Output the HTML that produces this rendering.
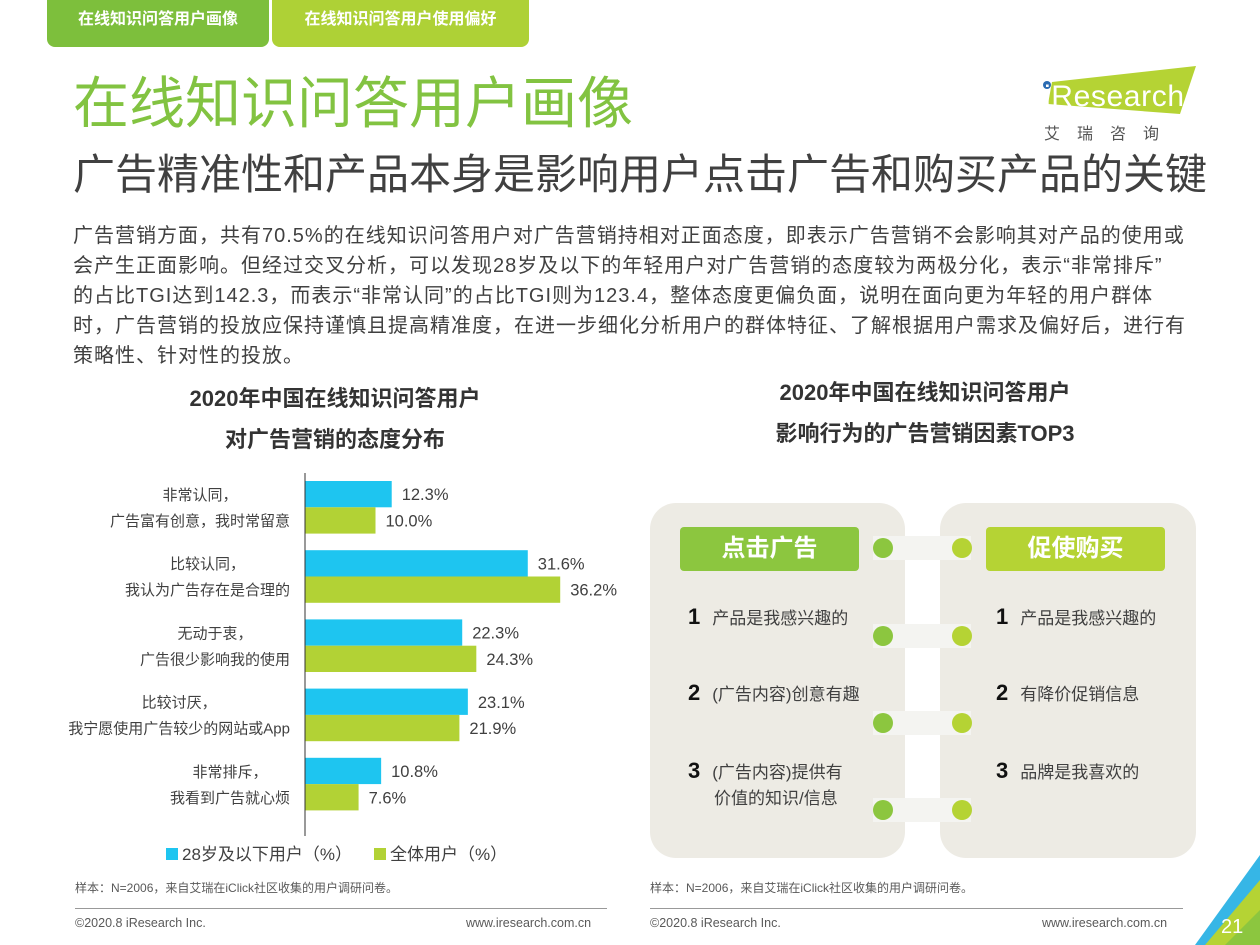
<!DOCTYPE html>
<html><head><meta charset="utf-8"><style>
body{margin:0;width:1260px;height:945px;overflow:hidden;background:#fff;font-family:"Liberation Sans","Noto Sans CJK SC",sans-serif;color:#404040;position:relative}
.a{position:absolute;white-space:nowrap}
</style></head><body>
<div class="a" style="left:47px;top:0;width:222px;height:47px;background:#7dbf3c;border-radius:0 0 8px 8px;color:#fff;font-weight:bold;font-size:16px;line-height:40px;text-align:center">在线知识问答用户画像</div>
<div class="a" style="left:272px;top:0;width:257px;height:47px;background:#aed136;border-radius:0 0 8px 8px;color:#fff;font-weight:bold;font-size:16px;line-height:40px;text-align:center">在线知识问答用户使用偏好</div>
<div class="a" style="left:73px;top:68px;font-size:56px;color:#82c341;line-height:72px">在线知识问答用户画像</div>
<div class="a" style="left:73px;top:148px;font-size:42px;color:#404040;line-height:54px">广告精准性和产品本身是影响用户点击广告和购买产品的关键</div>
<div class="a" style="left:1040px;top:66px;width:160px;height:80px">
<svg width="160" height="80"><polygon points="12,16 156,0 140,48 8,38" fill="#b5d334"/><circle cx="7" cy="19" r="4" fill="#2b6cb3"/><text x="4" y="40" font-size="30" fill="#fff" font-family="Liberation Sans" textLength="140">iResearch</text>
<text x="4" y="73" font-size="16" fill="#555" letter-spacing="17" font-family="Noto Sans CJK SC">艾瑞咨询</text></svg></div>
<div class="a" style="left:73px;top:221px;font-size:20px;letter-spacing:1px;line-height:30px;color:#404040">广告营销方面，共有70.5%的在线知识问答用户对广告营销持相对正面态度，即表示广告营销不会影响其对产品的使用或<br>会产生正面影响。但经过交叉分析，可以发现28岁及以下的年轻用户对广告营销的态度较为两极分化，表示“非常排斥”<br>的占比TGI达到142.3，而表示“非常认同”的占比TGI则为123.4，整体态度更偏负面，说明在面向更为年轻的用户群体<br>时，广告营销的投放应保持谨慎且提高精准度，在进一步细化分析用户的群体特征、了解根据用户需求及偏好后，进行有<br>策略性、针对性的投放。</div>
<div class="a" style="left:90px;top:378px;width:490px;text-align:center;font-size:22px;font-weight:bold;line-height:41px;color:#333">2020年中国在线知识问答用户<br>对广告营销的态度分布</div>
<div class="a" style="left:680px;top:372px;width:490px;text-align:center;font-size:22px;font-weight:bold;line-height:41px;color:#333">2020年中国在线知识问答用户<br>影响行为的广告营销因素TOP3</div>
<svg class="a" style="left:0;top:0" width="1260" height="945" id="chart"></svg>
<script>
const categories1=["非常认同，","比较认同，","无动于衷，","比较讨厌，","非常排斥，"];
const categories2=["广告富有创意，我时常留意","我认为广告存在是合理的","广告很少影响我的使用","我宁愿使用广告较少的网站或App","我看到广告就心烦"];
const youngValues=[12.3,31.6,22.3,23.1,10.8];
const allValues=[10.0,36.2,24.3,21.9,7.6];
const svg=document.getElementById('chart');const NS='http://www.w3.org/2000/svg';
const x0=305,pxPer=7.05,top0=481,pitch=69.2,bh=26.3;
const xs=v=>x0+v*pxPer;
function mk(t,a){const e=document.createElementNS(NS,t);for(const k in a)e.setAttribute(k,a[k]);svg.appendChild(e);return e;}
categories1.forEach((c,i)=>{
 const y=top0+i*pitch;
 [[youngValues[i],'#1ec5f0',0],[allValues[i],'#b2d235',1]].forEach(([v,col,j])=>{
  const r=mk('rect',{x:x0,y:y+j*bh,width:xs(v)-x0,height:bh,fill:col});
  
  
  const t=mk('text',{x:xs(v)+10,y:y+j*bh+bh/2+6,'font-size':16.5,fill:'#404040','font-family':'Liberation Sans'});
  t.textContent=v.toFixed(1)+'%';
  
  
 });
 const l2=mk('text',{x:290,y:y+45,'font-size':15,fill:'#404040','text-anchor':'end','font-family':'Liberation Sans, Noto Sans CJK SC'});l2.textContent=categories2[i];
 
 
 const w=l2.getComputedTextLength();
 const l1=mk('text',{x:290-w/2,y:y+19,'font-size':15,fill:'#404040','text-anchor':'middle','font-family':'Noto Sans CJK SC'});l1.textContent=c;
 
 
});
const ax=mk('line',{x1:x0,x2:x0,y1:473,y2:836,stroke:'#333','stroke-width':1});


</script>
<div class="a" style="left:166px;top:840px;font-size:17px;color:#404040"><span style="display:inline-block;width:12px;height:12px;background:#1ec5f0;margin-right:4px"></span>28岁及以下用户（%）</div>
<div class="a" style="left:374px;top:840px;font-size:17px;color:#404040"><span style="display:inline-block;width:12px;height:12px;background:#b2d235;margin-right:4px"></span>全体用户（%）</div>
<div class="a" style="left:650px;top:503px;width:255px;height:355px;background:#edebe4;border-radius:26px"></div>
<div class="a" style="left:940px;top:503px;width:256px;height:355px;background:#edebe4;border-radius:26px"></div>
<div class="a" style="left:680px;top:527px;width:179px;height:44px;background:#8cc63f;border-radius:4px;color:#fff;font-size:24px;font-weight:bold;text-align:center;line-height:44px">点击广告</div>
<div class="a" style="left:986px;top:527px;width:179px;height:44px;background:#b5d334;border-radius:4px;color:#fff;font-size:24px;font-weight:bold;text-align:center;line-height:44px">促使购买</div>
<div id="conn"></div>
<script>
const connY=[548,636,723,810];
const c=document.getElementById('conn');
connY.forEach(y=>{
 const b=document.createElement('div');b.className='a';b.style.cssText=`left:873px;top:${y-12}px;width:98px;height:24px;background:#f4f4f1`;
 
 
 c.appendChild(b);
 [[883,'#8cc63f'],[962,'#b5d334']].forEach(([x,col])=>{const d=document.createElement('div');d.className='a';d.style.cssText=`left:${x-10}px;top:${y-10}px;width:20px;height:20px;border-radius:50%;background:${col}`;
 
 
 c.appendChild(d);});
});
</script>
<div class="a" style="left:688px;top:604px;font-size:17px"><b style="font-size:22px;color:#111;margin-right:12px">1</b>产品是我感兴趣的</div>
<div class="a" style="left:688px;top:680px;font-size:17px"><b style="font-size:22px;color:#111;margin-right:12px">2</b>(广告内容)创意有趣</div>
<div class="a" style="left:688px;top:758px;font-size:17px;line-height:26px"><b style="font-size:22px;color:#111;margin-right:12px">3</b>(广告内容)提供有<br><span style="margin-left:26px">价值的知识/信息</span></div>
<div class="a" style="left:996px;top:604px;font-size:17px"><b style="font-size:22px;color:#111;margin-right:12px">1</b>产品是我感兴趣的</div>
<div class="a" style="left:996px;top:680px;font-size:17px"><b style="font-size:22px;color:#111;margin-right:12px">2</b>有降价促销信息</div>
<div class="a" style="left:996px;top:758px;font-size:17px"><b style="font-size:22px;color:#111;margin-right:12px">3</b>品牌是我喜欢的</div>
<div class="a" style="left:75px;top:879px;font-size:12px;color:#595959">样本：N=2006，来自艾瑞在iClick社区收集的用户调研问卷。</div>
<div class="a" style="left:650px;top:879px;font-size:12px;color:#595959">样本：N=2006，来自艾瑞在iClick社区收集的用户调研问卷。</div>
<div class="a" style="left:75px;top:908px;width:532px;height:1px;background:#999"></div>
<div class="a" style="left:650px;top:908px;width:533px;height:1px;background:#999"></div>
<div class="a" style="left:75px;top:916px;font-size:12.5px;color:#595959">©2020.8 iResearch Inc.</div>
<div class="a" style="left:466px;top:916px;font-size:12.5px;color:#595959">www.iresearch.com.cn</div>
<div class="a" style="left:650px;top:916px;font-size:12.5px;color:#595959">©2020.8 iResearch Inc.</div>
<div class="a" style="left:1042px;top:916px;font-size:12.5px;color:#595959">www.iresearch.com.cn</div>
<svg class="a" style="left:1195px;top:855px" width="65" height="90"><polygon points="65,0 65,40 20,90 0,90" fill="#36b6e6"/><polygon points="65,25 65,90 10,90" fill="#b5d334"/><polygon points="65,55 65,90 30,90" fill="#8cc63f"/><text x="26" y="78" font-size="20" fill="#fff" font-family="Liberation Sans">21</text></svg>
</body></html>
